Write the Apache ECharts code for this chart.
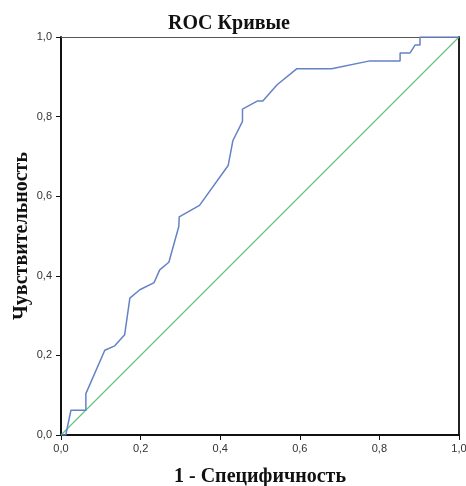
<!DOCTYPE html>
<html>
<head>
<meta charset="utf-8">
<script src="https://cdn.jsdelivr.net/npm/echarts@6/dist/echarts.min.js"></script>
<style>
  html, body { margin: 0; padding: 0; background: #fff; overflow: hidden; }
  #chart { width: 466px; height: 486px; }
</style>
</head>
<body>
<div id="chart"></div>
<script>
// ROC curve: false positive rate (1 - specificity) vs. sensitivity
const fpr = [0, 0.012, 0.025, 0.0625, 0.0625, 0.11, 0.135, 0.16, 0.173, 0.198, 0.234, 0.248,
  0.271, 0.296, 0.297, 0.348, 0.42, 0.432, 0.456, 0.456, 0.493, 0.507, 0.543, 0.592,
  0.68, 0.776, 0.852, 0.852, 0.877, 0.89, 0.902, 0.902, 1];
const tpr = [0, 0, 0.0625, 0.0625, 0.104, 0.213, 0.224, 0.252, 0.344, 0.365, 0.383, 0.415,
  0.434, 0.524, 0.548, 0.577, 0.677, 0.74, 0.788, 0.819, 0.839, 0.839, 0.88, 0.92,
  0.92, 0.94, 0.94, 0.96, 0.96, 0.98, 0.98, 1, 1];
// Reference line (chance)
const refX = [0, 1];
const refY = [0, 1];

const titleText = 'ROC Кривые';
const xName = '1 - Специфичность';
const yName = 'Чувствительность';

const pairs = (xs, ys) => xs.map((x, i) => [x, ys[i]]);
const fmt = v => v.toFixed(1).replace('.', ',');

const serif = '"Liberation Serif", "DejaVu Serif", serif';
const sans = '"Liberation Sans", Arial, sans-serif';

const chart = echarts.init(document.getElementById('chart'), null, { renderer: 'canvas' });
chart.setOption({
  animation: false,
  backgroundColor: '#ffffff',
  title: {
    text: titleText,
    left: 224, top: 9, textAlign: 'center',
    textStyle: { fontFamily: serif, fontWeight: 'bold', fontSize: 20, color: '#111' }
  },
  grid: { left: 61, right: 7, top: 37, bottom: 51, containLabel: false, outerBoundsMode: 'none' },
  xAxis: [{
    type: 'value', min: 0, max: 1, interval: 0.2,
    name: xName, nameLocation: 'middle', nameGap: 32, nameMoveOverlap: false,
    nameTextStyle: { fontFamily: serif, fontWeight: 'bold', fontSize: 20, color: '#111' },
    axisLine: { show: true, lineStyle: { color: '#111', width: 2 } },
    axisTick: { show: true, length: 5, lineStyle: { color: '#111', width: 1 } },
    axisLabel: { formatter: fmt, fontFamily: sans, fontSize: 11, color: '#333', margin: 8 },
    splitLine: { show: false }
  }, {
    type: 'value', min: 0, max: 1, position: 'top',
    axisLine: { show: true, onZero: false, lineStyle: { color: '#555', width: 1 } },
    axisTick: { show: false }, axisLabel: { show: false }, splitLine: { show: false }
  }],
  yAxis: [{
    type: 'value', min: 0, max: 1, interval: 0.2,
    name: yName, nameLocation: 'middle', nameGap: 29, nameRotate: 90, nameMoveOverlap: false,
    nameTextStyle: { fontFamily: serif, fontWeight: 'bold', fontSize: 20, color: '#111' },
    axisLine: { show: true, lineStyle: { color: '#111', width: 2 } },
    axisTick: { show: true, length: 5, lineStyle: { color: '#111', width: 1 } },
    axisLabel: { formatter: fmt, fontFamily: sans, fontSize: 11, color: '#333', margin: 9 },
    splitLine: { show: false }
  }, {
    type: 'value', min: 0, max: 1, position: 'right',
    axisLine: { show: true, onZero: false, lineStyle: { color: '#222', width: 2 } },
    axisTick: { show: false }, axisLabel: { show: false }, splitLine: { show: false }
  }],
  series: [{
    type: 'line', data: pairs(refX, refY), symbol: 'none',
    lineStyle: { color: '#6cc386', width: 1.3 }, z: 2
  }, {
    type: 'line', data: pairs(fpr, tpr), symbol: 'none',
    lineStyle: { color: '#6582c6', width: 1.5 }, z: 3
  }]
});
</script>
</body>
</html>
